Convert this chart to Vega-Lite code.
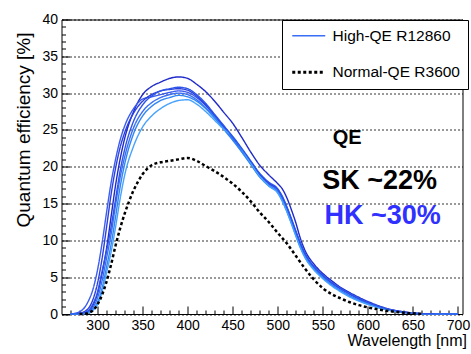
{
 "$schema": "https://vega.github.io/schema/vega-lite/v6.json",
 "width": 401, "height": 294.5,
 "autosize": {"type": "none"},
 "padding": {"left": 61.5, "top": 19.5, "right": 8.5, "bottom": 40},
 "background": "white",
 "config": {
  "view": {"stroke": "black", "strokeWidth": 1},
  "font": "Liberation Sans",
  "axis": {"labelFont": "Liberation Sans", "titleFont": "Liberation Sans", "labelColor": "black", "titleColor": "black", "tickColor": "black", "domain": false, "titleFontWeight": "normal", "tickWidth": 1}
 },
 "datasets": {
  "curves": [
   {"c":"h1","w":270,"q":0},{"c":"h1","w":280,"q":0.05},{"c":"h1","w":290,"q":0.4},{"c":"h1","w":295,"q":1.2},{"c":"h1","w":300,"q":2.8},{"c":"h1","w":305,"q":5.5},{"c":"h1","w":310,"q":8.9},{"c":"h1","w":315,"q":13.2},{"c":"h1","w":320,"q":17.5},{"c":"h1","w":325,"q":21.0},{"c":"h1","w":330,"q":23.8},{"c":"h1","w":340,"q":27.5},{"c":"h1","w":350,"q":29.8},{"c":"h1","w":360,"q":30.9},{"c":"h1","w":370,"q":31.5},{"c":"h1","w":380,"q":32.0},{"c":"h1","w":390,"q":32.2},{"c":"h1","w":400,"q":32.0},{"c":"h1","w":410,"q":31.2},{"c":"h1","w":420,"q":30.2},{"c":"h1","w":430,"q":28.9},{"c":"h1","w":440,"q":27.4},{"c":"h1","w":450,"q":25.9},{"c":"h1","w":460,"q":24.0},{"c":"h1","w":470,"q":22.0},{"c":"h1","w":480,"q":20.2},{"c":"h1","w":490,"q":18.9},{"c":"h1","w":500,"q":17.7},{"c":"h1","w":505,"q":17.0},{"c":"h1","w":510,"q":15.8},{"c":"h1","w":515,"q":14.2},{"c":"h1","w":520,"q":12.4},{"c":"h1","w":525,"q":10.3},{"c":"h1","w":530,"q":8.7},{"c":"h1","w":540,"q":6.8},{"c":"h1","w":550,"q":5.5},{"c":"h1","w":560,"q":4.5},{"c":"h1","w":570,"q":3.6},{"c":"h1","w":580,"q":2.9},{"c":"h1","w":600,"q":1.7},{"c":"h1","w":620,"q":0.8},{"c":"h1","w":640,"q":0.3},{"c":"h1","w":660,"q":0.05},{"c":"h1","w":700,"q":0},
   {"c":"h2","w":270,"q":0},{"c":"h2","w":280,"q":0.3},{"c":"h2","w":290,"q":1.8},{"c":"h2","w":295,"q":3.4},{"c":"h2","w":300,"q":6.0},{"c":"h2","w":305,"q":9.6},{"c":"h2","w":310,"q":13.8},{"c":"h2","w":315,"q":17.8},{"c":"h2","w":320,"q":21.0},{"c":"h2","w":325,"q":23.6},{"c":"h2","w":330,"q":25.5},{"c":"h2","w":340,"q":27.9},{"c":"h2","w":350,"q":29.2},{"c":"h2","w":360,"q":29.5},{"c":"h2","w":370,"q":29.8},{"c":"h2","w":380,"q":30.1},{"c":"h2","w":390,"q":30.3},{"c":"h2","w":400,"q":30.1},{"c":"h2","w":410,"q":29.4},{"c":"h2","w":420,"q":28.3},{"c":"h2","w":430,"q":26.9},{"c":"h2","w":440,"q":25.4},{"c":"h2","w":450,"q":23.9},{"c":"h2","w":460,"q":22.3},{"c":"h2","w":470,"q":20.6},{"c":"h2","w":480,"q":18.9},{"c":"h2","w":490,"q":17.7},{"c":"h2","w":500,"q":16.8},{"c":"h2","w":505,"q":15.8},{"c":"h2","w":510,"q":14.4},{"c":"h2","w":515,"q":12.8},{"c":"h2","w":520,"q":11.1},{"c":"h2","w":525,"q":9.5},{"c":"h2","w":530,"q":8.2},{"c":"h2","w":540,"q":6.4},{"c":"h2","w":550,"q":5.2},{"c":"h2","w":560,"q":4.2},{"c":"h2","w":570,"q":3.4},{"c":"h2","w":580,"q":2.7},{"c":"h2","w":600,"q":1.5},{"c":"h2","w":620,"q":0.7},{"c":"h2","w":640,"q":0.25},{"c":"h2","w":660,"q":0.05},{"c":"h2","w":700,"q":0},
   {"c":"h3","w":270,"q":0},{"c":"h3","w":280,"q":0.1},{"c":"h3","w":290,"q":0.8},{"c":"h3","w":295,"q":2.0},{"c":"h3","w":300,"q":4.2},{"c":"h3","w":305,"q":7.5},{"c":"h3","w":310,"q":11.8},{"c":"h3","w":315,"q":16.2},{"c":"h3","w":320,"q":19.8},{"c":"h3","w":325,"q":22.6},{"c":"h3","w":330,"q":24.6},{"c":"h3","w":340,"q":27.3},{"c":"h3","w":350,"q":28.9},{"c":"h3","w":360,"q":29.8},{"c":"h3","w":370,"q":30.3},{"c":"h3","w":380,"q":30.5},{"c":"h3","w":390,"q":30.6},{"c":"h3","w":400,"q":30.4},{"c":"h3","w":410,"q":29.6},{"c":"h3","w":420,"q":28.4},{"c":"h3","w":430,"q":27.0},{"c":"h3","w":440,"q":25.5},{"c":"h3","w":450,"q":24.0},{"c":"h3","w":460,"q":22.4},{"c":"h3","w":470,"q":20.7},{"c":"h3","w":480,"q":19.0},{"c":"h3","w":490,"q":17.8},{"c":"h3","w":500,"q":16.9},{"c":"h3","w":505,"q":15.9},{"c":"h3","w":510,"q":14.5},{"c":"h3","w":515,"q":12.9},{"c":"h3","w":520,"q":11.2},{"c":"h3","w":525,"q":9.6},{"c":"h3","w":530,"q":8.2},{"c":"h3","w":540,"q":6.4},{"c":"h3","w":550,"q":5.2},{"c":"h3","w":560,"q":4.2},{"c":"h3","w":570,"q":3.4},{"c":"h3","w":580,"q":2.7},{"c":"h3","w":600,"q":1.5},{"c":"h3","w":620,"q":0.7},{"c":"h3","w":640,"q":0.25},{"c":"h3","w":660,"q":0.05},{"c":"h3","w":700,"q":0},
   {"c":"h4","w":270,"q":0},{"c":"h4","w":280,"q":0.02},{"c":"h4","w":290,"q":0.3},{"c":"h4","w":295,"q":0.9},{"c":"h4","w":300,"q":2.2},{"c":"h4","w":305,"q":4.5},{"c":"h4","w":310,"q":7.6},{"c":"h4","w":315,"q":10.8},{"c":"h4","w":320,"q":14.8},{"c":"h4","w":325,"q":18.5},{"c":"h4","w":330,"q":21.3},{"c":"h4","w":340,"q":25.3},{"c":"h4","w":350,"q":27.5},{"c":"h4","w":360,"q":28.7},{"c":"h4","w":370,"q":29.4},{"c":"h4","w":380,"q":29.8},{"c":"h4","w":390,"q":30.0},{"c":"h4","w":400,"q":29.8},{"c":"h4","w":410,"q":29.1},{"c":"h4","w":420,"q":28.0},{"c":"h4","w":430,"q":26.7},{"c":"h4","w":440,"q":25.2},{"c":"h4","w":450,"q":23.7},{"c":"h4","w":460,"q":22.1},{"c":"h4","w":470,"q":20.4},{"c":"h4","w":480,"q":18.7},{"c":"h4","w":490,"q":17.5},{"c":"h4","w":500,"q":16.6},{"c":"h4","w":505,"q":15.5},{"c":"h4","w":510,"q":14.1},{"c":"h4","w":515,"q":12.5},{"c":"h4","w":520,"q":10.8},{"c":"h4","w":525,"q":9.2},{"c":"h4","w":530,"q":7.9},{"c":"h4","w":540,"q":6.2},{"c":"h4","w":550,"q":5.0},{"c":"h4","w":560,"q":4.0},{"c":"h4","w":570,"q":3.2},{"c":"h4","w":580,"q":2.5},{"c":"h4","w":600,"q":1.4},{"c":"h4","w":620,"q":0.65},{"c":"h4","w":640,"q":0.22},{"c":"h4","w":660,"q":0.04},{"c":"h4","w":700,"q":0},
   {"c":"h5","w":270,"q":0},{"c":"h5","w":280,"q":0},{"c":"h5","w":290,"q":0.2},{"c":"h5","w":295,"q":0.6},{"c":"h5","w":300,"q":1.6},{"c":"h5","w":305,"q":3.5},{"c":"h5","w":310,"q":6.4},{"c":"h5","w":315,"q":9.4},{"c":"h5","w":320,"q":13.2},{"c":"h5","w":325,"q":17.2},{"c":"h5","w":330,"q":20.3},{"c":"h5","w":340,"q":24.5},{"c":"h5","w":350,"q":26.9},{"c":"h5","w":360,"q":28.2},{"c":"h5","w":370,"q":29.0},{"c":"h5","w":380,"q":29.4},{"c":"h5","w":390,"q":29.7},{"c":"h5","w":400,"q":29.5},{"c":"h5","w":410,"q":28.9},{"c":"h5","w":420,"q":27.9},{"c":"h5","w":430,"q":26.6},{"c":"h5","w":440,"q":25.1},{"c":"h5","w":450,"q":23.6},{"c":"h5","w":460,"q":22.0},{"c":"h5","w":470,"q":20.3},{"c":"h5","w":480,"q":18.6},{"c":"h5","w":490,"q":17.4},{"c":"h5","w":500,"q":16.5},{"c":"h5","w":505,"q":15.4},{"c":"h5","w":510,"q":14.0},{"c":"h5","w":515,"q":12.4},{"c":"h5","w":520,"q":10.7},{"c":"h5","w":525,"q":9.1},{"c":"h5","w":530,"q":7.8},{"c":"h5","w":540,"q":6.1},{"c":"h5","w":550,"q":4.9},{"c":"h5","w":560,"q":3.9},{"c":"h5","w":570,"q":3.1},{"c":"h5","w":580,"q":2.4},{"c":"h5","w":600,"q":1.35},{"c":"h5","w":620,"q":0.6},{"c":"h5","w":640,"q":0.2},{"c":"h5","w":660,"q":0.04},{"c":"h5","w":700,"q":0},
   {"c":"h6","w":270,"q":0},{"c":"h6","w":280,"q":0},{"c":"h6","w":290,"q":0.15},{"c":"h6","w":295,"q":0.5},{"c":"h6","w":300,"q":1.3},{"c":"h6","w":305,"q":3.0},{"c":"h6","w":310,"q":5.6},{"c":"h6","w":315,"q":8.4},{"c":"h6","w":320,"q":11.8},{"c":"h6","w":325,"q":15.6},{"c":"h6","w":330,"q":18.8},{"c":"h6","w":340,"q":22.8},{"c":"h6","w":350,"q":25.4},{"c":"h6","w":360,"q":26.9},{"c":"h6","w":370,"q":27.9},{"c":"h6","w":380,"q":28.6},{"c":"h6","w":390,"q":29.0},{"c":"h6","w":400,"q":29.1},{"c":"h6","w":410,"q":28.5},{"c":"h6","w":420,"q":27.5},{"c":"h6","w":430,"q":26.3},{"c":"h6","w":440,"q":25.1},{"c":"h6","w":450,"q":24.1},{"c":"h6","w":460,"q":22.4},{"c":"h6","w":470,"q":20.5},{"c":"h6","w":480,"q":18.7},{"c":"h6","w":490,"q":17.4},{"c":"h6","w":500,"q":16.4},{"c":"h6","w":505,"q":15.3},{"c":"h6","w":510,"q":13.9},{"c":"h6","w":515,"q":12.3},{"c":"h6","w":520,"q":10.6},{"c":"h6","w":525,"q":9.0},{"c":"h6","w":530,"q":7.7},{"c":"h6","w":540,"q":6.0},{"c":"h6","w":550,"q":4.8},{"c":"h6","w":560,"q":3.8},{"c":"h6","w":570,"q":3.0},{"c":"h6","w":580,"q":2.3},{"c":"h6","w":600,"q":1.3},{"c":"h6","w":620,"q":0.6},{"c":"h6","w":640,"q":0.2},{"c":"h6","w":660,"q":0.04},{"c":"h6","w":700,"q":0},
   {"c":"h7","w":270,"q":0},{"c":"h7","w":280,"q":0.05},{"c":"h7","w":290,"q":0.5},{"c":"h7","w":295,"q":1.4},{"c":"h7","w":300,"q":3.0},{"c":"h7","w":305,"q":5.8},{"c":"h7","w":310,"q":8.6},{"c":"h7","w":315,"q":11.8},{"c":"h7","w":320,"q":15.6},{"c":"h7","w":325,"q":19.4},{"c":"h7","w":330,"q":22.3},{"c":"h7","w":340,"q":26.2},{"c":"h7","w":350,"q":28.4},{"c":"h7","w":360,"q":29.6},{"c":"h7","w":370,"q":30.3},{"c":"h7","w":380,"q":30.6},{"c":"h7","w":390,"q":30.8},{"c":"h7","w":400,"q":30.6},{"c":"h7","w":410,"q":29.8},{"c":"h7","w":420,"q":28.6},{"c":"h7","w":430,"q":27.1},{"c":"h7","w":440,"q":25.6},{"c":"h7","w":450,"q":24.1},{"c":"h7","w":460,"q":22.5},{"c":"h7","w":470,"q":20.8},{"c":"h7","w":480,"q":19.1},{"c":"h7","w":490,"q":17.9},{"c":"h7","w":500,"q":17.0},{"c":"h7","w":505,"q":16.0},{"c":"h7","w":510,"q":14.6},{"c":"h7","w":515,"q":13.0},{"c":"h7","w":520,"q":11.3},{"c":"h7","w":525,"q":9.7},{"c":"h7","w":530,"q":8.3},{"c":"h7","w":540,"q":6.5},{"c":"h7","w":550,"q":5.3},{"c":"h7","w":560,"q":4.3},{"c":"h7","w":570,"q":3.5},{"c":"h7","w":580,"q":2.8},{"c":"h7","w":600,"q":1.6},{"c":"h7","w":620,"q":0.75},{"c":"h7","w":640,"q":0.25},{"c":"h7","w":660,"q":0.05},{"c":"h7","w":700,"q":0},
   {"c":"n","w":280,"q":0},{"c":"n","w":285,"q":0.02},{"c":"n","w":290,"q":0.15},{"c":"n","w":295,"q":0.5},{"c":"n","w":300,"q":1.3},{"c":"n","w":305,"q":2.6},{"c":"n","w":310,"q":4.4},{"c":"n","w":315,"q":6.7},{"c":"n","w":320,"q":9.3},{"c":"n","w":325,"q":11.6},{"c":"n","w":330,"q":13.6},{"c":"n","w":335,"q":15.3},{"c":"n","w":340,"q":16.8},{"c":"n","w":345,"q":18.0},{"c":"n","w":350,"q":19.0},{"c":"n","w":355,"q":19.7},{"c":"n","w":360,"q":20.2},{"c":"n","w":370,"q":20.6},{"c":"n","w":380,"q":20.8},{"c":"n","w":390,"q":21.0},{"c":"n","w":400,"q":21.2},{"c":"n","w":410,"q":20.8},{"c":"n","w":420,"q":20.1},{"c":"n","w":430,"q":19.4},{"c":"n","w":440,"q":18.6},{"c":"n","w":450,"q":17.7},{"c":"n","w":460,"q":16.6},{"c":"n","w":470,"q":15.3},{"c":"n","w":480,"q":13.8},{"c":"n","w":490,"q":12.5},{"c":"n","w":500,"q":11.0},{"c":"n","w":510,"q":9.6},{"c":"n","w":520,"q":7.9},{"c":"n","w":530,"q":6.2},{"c":"n","w":540,"q":4.7},{"c":"n","w":550,"q":3.5},{"c":"n","w":560,"q":2.7},{"c":"n","w":570,"q":2.1},{"c":"n","w":580,"q":1.6},{"c":"n","w":590,"q":1.2},{"c":"n","w":600,"q":0.9},{"c":"n","w":620,"q":0.45},{"c":"n","w":640,"q":0.18},{"c":"n","w":662,"q":0}
  ]
 },
 "layer": [
  {
   "data": {"name": "curves"},
   "transform": [{"filter": "datum.c != 'n'"}],
   "mark": {"type": "line", "interpolate": "monotone"},
   "encoding": {
    "x": {"field": "w", "type": "quantitative", "scale": {"domain": [260, 705], "nice": false, "zero": false},
     "axis": {"orient": "bottom", "values": [300,350,400,450,500,550,600,650,700], "tickSize": -8, "labelPadding": 12, "labelFontSize": 14, "labelFlush": false, "grid": false,
      "title": "Wavelength [nm]", "titleFontSize": 16, "titleX": 405, "titleY": 31, "titleAlign": "right", "titleBaseline": "alphabetic", "titleAnchor": "end"}},
    "y": {"field": "q", "type": "quantitative", "scale": {"domain": [0, 40], "nice": false},
     "axis": {"orient": "left", "values": [0,5,10,15,20,25,30,35,40], "tickSize": -8, "labelPadding": 12, "labelFontSize": 14, "labelFlush": false,
      "grid": true, "gridColor": "black", "gridDash": [2, 2], "gridWidth": 0.8, "gridOpacity": 1,
      "title": "Quantum efficiency [%]", "titleFontSize": 19, "titleAngle": -90, "titleX": -32, "titleY": 110, "titleAlign": "center", "titleBaseline": "alphabetic"}},
    "detail": {"field": "c"},
    "color": {"field": "c", "type": "nominal",
     "scale": {"domain": ["h1","h2","h3","h4","h5","h6","h7","n"], "range": ["#1f2ac8","#3b5cf0","#2b40dd","#3a6ef6","#2f86f4","#47a2ff","#2d55ea","#000000"]},
     "legend": {"orient": "none", "legendX": 220.5, "legendY": 0.5, "title": null, "values": ["h4","n"],
      "labelExpr": "datum.value == 'n' ? 'Normal-QE R3600' : 'High-QE R12860'",
      "symbolType": "M-1,0H5", "symbolSize": 121, "strokeColor": "black", "fillColor": "white", "padding": 8, "rowPadding": 19.5, "labelOffset": 27,
      "labelFontSize": 15.5, "labelFont": "Liberation Sans", "labelColor": "black", "labelLimit": 300, "cornerRadius": 0,
      "encode": {"symbols": {"update": {"strokeWidth": {"signal": "datum.value == 'n' ? 3 : 1.4"}}}}}},
    "strokeDash": {"field": "c", "type": "nominal",
     "scale": {"domain": ["h1","h2","h3","h4","h5","h6","h7","n"], "range": [[1,0],[1,0],[1,0],[1,0],[1,0],[1,0],[1,0],[3,2.5]]}},
    "strokeWidth": {"field": "c", "type": "nominal", "legend": null,
     "scale": {"type": "ordinal", "domain": ["h1","h2","h3","h4","h5","h6","h7","n"], "range": [1.4,1.4,1.4,1.4,1.4,1.4,1.4,3]}}
   }
  },
  {
   "data": {"name": "curves"},
   "transform": [{"filter": "datum.c == 'n'"}],
   "mark": {"type": "line", "interpolate": "monotone"},
   "encoding": {
    "x": {"field": "w", "type": "quantitative",
     "axis": {"orient": "bottom", "values": [270,280,290,310,320,330,340,360,370,380,390,410,420,430,440,460,470,480,490,510,520,530,540,560,570,580,590,610,620,630,640,660,670,680,690], "tickSize": -4, "labels": false, "grid": false, "title": null, "domain": false}},
    "y": {"field": "q", "type": "quantitative",
     "axis": {"orient": "left", "values": [1,2,3,4,6,7,8,9,11,12,13,14,16,17,18,19,21,22,23,24,26,27,28,29,31,32,33,34,36,37,38,39], "tickSize": -4, "labels": false, "grid": false, "title": null, "domain": false}},
    "color": {"field": "c", "type": "nominal"},
    "strokeDash": {"field": "c", "type": "nominal"},
    "strokeWidth": {"field": "c", "type": "nominal", "legend": null}
   }
  },
  {
   "data": {"values": [{"t": "QE", "w": 577, "q": 23.9}]},
   "mark": {"type": "text", "font": "Liberation Sans", "fontWeight": "bold", "fontSize": 20, "baseline": "middle", "align": "center", "color": "black"},
   "encoding": {"x": {"field": "w", "type": "quantitative", "axis": null}, "y": {"field": "q", "type": "quantitative", "axis": null}, "text": {"field": "t"}}
  },
  {
   "data": {"values": [{"t": "SK ~22%", "w": 613, "q": 18.06}]},
   "mark": {"type": "text", "font": "Liberation Sans", "fontWeight": "bold", "fontSize": 27, "baseline": "middle", "align": "center", "color": "black"},
   "encoding": {"x": {"field": "w", "type": "quantitative", "axis": null}, "y": {"field": "q", "type": "quantitative", "axis": null}, "text": {"field": "t"}}
  },
  {
   "data": {"values": [{"t": "HK ~30%", "w": 616.3, "q": 13.3}]},
   "mark": {"type": "text", "font": "Liberation Sans", "fontWeight": "bold", "fontSize": 27, "baseline": "middle", "align": "center", "color": "#3030ff"},
   "encoding": {"x": {"field": "w", "type": "quantitative", "axis": null}, "y": {"field": "q", "type": "quantitative", "axis": null}, "text": {"field": "t"}}
  }
 ],
 "resolve": {"axis": {"x": "independent", "y": "independent"}}
}
